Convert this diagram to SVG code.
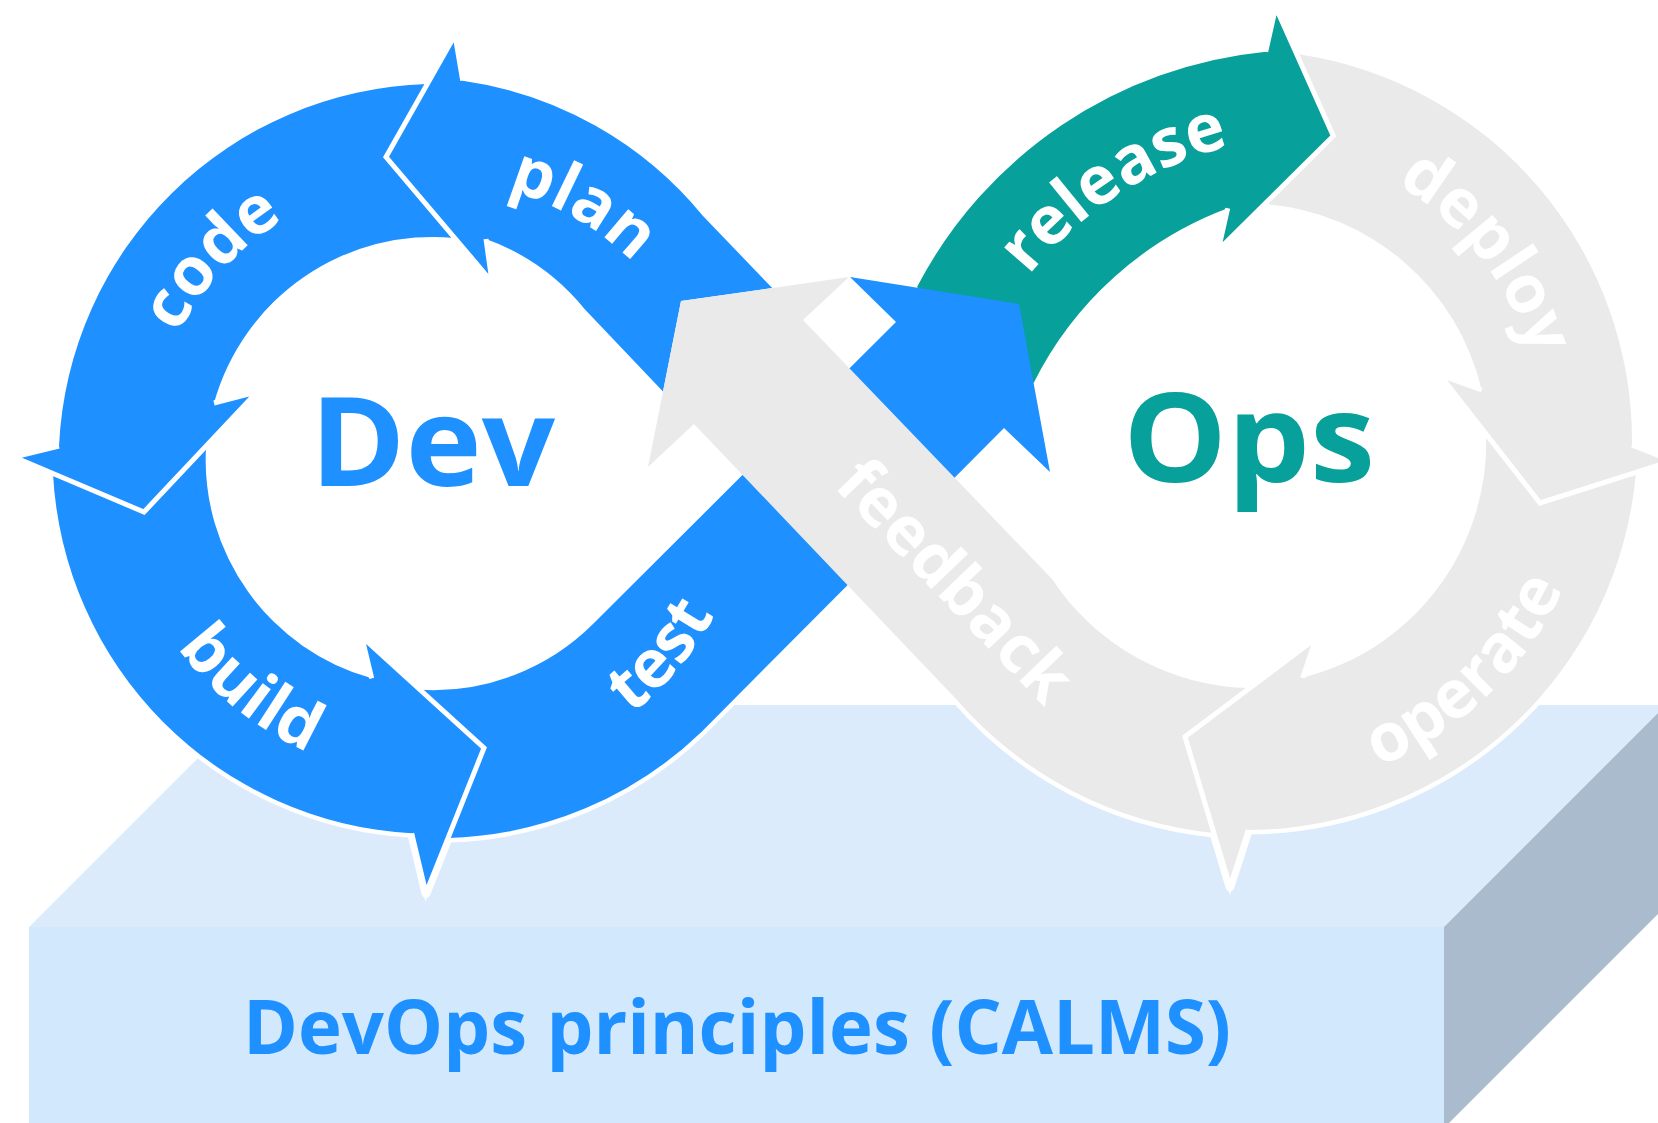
<svg xmlns="http://www.w3.org/2000/svg" xmlns:xlink="http://www.w3.org/1999/xlink" width="1658" height="1123" viewBox="0 0 1658 1123">
<style>
.blue{fill:#1e90ff}
.teal{fill:#08a09b}
.gray{fill:#eaeaea}
.halo{fill:#fff;stroke:#fff;stroke-width:9;stroke-linejoin:round}
.gap{fill:none;stroke:#fff;stroke-width:5;stroke-linejoin:miter;stroke-miterlimit:6}
.lbl{font-family:"Open Sans","Liberation Sans",sans-serif;font-weight:700;font-size:67px;fill:#fff}
.big{font-family:"Open Sans","Liberation Sans",sans-serif;font-weight:700}
</style>
<defs>
<path id="s-code" d="M427,84 A380,380 0 0 0 59,446 L14,457 L144,512 L257,392 L214,403 A227,227 0 0 1 454.7,238 L386,157 Z"/>
<path id="s-build" d="M53,473.5 A380,380 0 0 0 411.7,833.3 L426,893.3 L484,748 L361.7,636.7 L371.7,678.3 A227,227 0 0 1 206,447 L144,512 Z"/>
<path id="s-test" d="M448,838 L484,748 L420,689.8 A227,227 0 0 0 593.5,623.5 L896,322 L850,277 L1019,304 L1050,472 L1004,428 L701.7,731.7 A380,380 0 0 1 448,838 Z"/>
<path id="s-plan" d="M772.2,288 L703,216 A380,380 0 0 0 462.7,80.7 L455,35 L386,157 L492,282 L486,239 A227,227 0 0 1 585,309.5 L663,391.4 L681,301 Z"/>
<path id="s-release" d="M917,287 A442,442 0 0 1 1265.7,51.7 L1275.7,7.3 L1333.3,136 L1218.3,250 L1227.7,208.3 A356,356 0 0 0 1033.6,383 Z"/>
<path id="s-deploy" d="M1297,54 A391,391 0 0 1 1632,445 L1672,461 L1540,503 L1440,375 L1481.7,390 A242,242 0 0 0 1265,204 L1333.3,136 Z"/>
<path id="s-operate" d="M1636,472.5 A391,391 0 0 1 1248.3,830 L1230,886.7 L1185,736.7 L1316,638.3 L1302.7,677.7 A242,242 0 0 0 1486,434 L1540,503 Z"/>
<path id="s-feedback" d="M1214,833 L1185,736.7 L1250,688 A242,242 0 0 1 1052,579 L803,320 L849,277 L681,301 L648,467 L694,424 L957,700 A391,391 0 0 0 1214,833 Z"/>
<path id="t-code" d="M149.3,499.3 A287,287 0 0 1 446.5,177.3"/>
<path id="t-plan" d="M336.7,196.9 A283,283 0 0 1 711.8,414.4"/>
<path id="t-build" d="M118.1,469.6 A315,315 0 0 0 494.2,772"/>
<path id="t-test" d="M432.5,783 A320,320 0 0 0 748.2,408"/>
<path id="t-release" d="M950,460 A376,376 0 0 1 1430,150"/>
<path id="t-deploy" d="M1253.5,142.2 A301,301 0 0 1 1537.4,505.6"/>
<path id="t-operate" d="M1230,794 A352,352 0 0 0 1595,440"/>
<path id="t-feedback" d="M731.4,379.9 L1146.2,813.4"/>
</defs>
<rect width="1658" height="1123" fill="#fff"/>
<g id="platform">
<polygon points="29,927 251,705 1666,705 1444,927" fill="#dbebfc"/>
<polygon points="1444,927 1666,705 1666,906 1444,1128" fill="#a9bbcc"/>
<rect x="29" y="927" width="1415" height="196" fill="#d2e8fc"/>
<text class="big" x="243" y="1054" font-size="75" textLength="988" lengthAdjust="spacingAndGlyphs" fill="#1e90ff">DevOps principles (CALMS)</text>
</g>
<g id="halo">
<use href="#s-code" class="halo"/>
<use href="#s-build" class="halo"/>
<use href="#s-test" class="halo"/>
<use href="#s-plan" class="halo"/>
<use href="#s-release" class="halo"/>
<use href="#s-deploy" class="halo"/>
<use href="#s-operate" class="halo"/>
<use href="#s-feedback" class="halo"/>
</g>
<g id="deploy">
<use href="#s-deploy" class="gray"/>
<text class="lbl"><textPath href="#t-deploy" startOffset="50%" text-anchor="middle">deploy</textPath></text>
</g>
<g id="operate">
<use href="#s-operate" class="gray"/>
<text class="lbl"><textPath href="#t-operate" startOffset="50%" text-anchor="middle">operate</textPath></text>
</g>
<g id="release">
<use href="#s-release" class="teal"/>
<text class="lbl"><textPath href="#t-release" startOffset="50%" text-anchor="middle">release</textPath></text>
</g>
<g id="code">
<use href="#s-code" class="blue"/>
<text class="lbl"><textPath href="#t-code" startOffset="50%" text-anchor="middle">code</textPath></text>
</g>
<g id="build">
<use href="#s-build" class="blue"/>
<text class="lbl"><textPath href="#t-build" startOffset="50%" text-anchor="middle">build</textPath></text>
</g>
<g id="plan">
<use href="#s-plan" class="blue"/>
<text class="lbl"><textPath href="#t-plan" startOffset="50%" text-anchor="middle">plan</textPath></text>
</g>
<g id="test">
<use href="#s-test" class="blue"/>
<text class="lbl"><textPath href="#t-test" startOffset="50%" text-anchor="middle">test</textPath></text>
</g>
<g id="feedback">
<use href="#s-feedback" class="gray"/>
<text class="lbl"><textPath href="#t-feedback" startOffset="50%" text-anchor="middle">feedback</textPath></text>
</g>
<g id="separators">
<polyline class="gap" points="59,446 14,457 144,512 257,392 214,403"/>
<polyline class="gap" points="411.7,833.3 426,893.3 484,748 361.7,636.7 371.7,678.3"/>
<polyline class="gap" points="462.7,80.7 455,35 386,157 492,282 486,239"/>
<polyline class="gap" points="1265.7,51.7 1275.7,7.3 1333.3,136 1218.3,250 1227.7,208.3"/>
<polyline class="gap" points="1632,445 1672,461 1540,503 1440,375 1481.7,390"/>
<polyline class="gap" points="1248.3,830 1230,886.7 1185,736.7 1316,638.3 1302.7,677.7"/>
</g>
<g id="dev-label">
<text class="big" x="310" y="486" font-size="124" textLength="245" lengthAdjust="spacingAndGlyphs" fill="#1e90ff">Dev</text>
</g>
<g id="ops-label">
<text class="big" x="1123" y="482" font-size="124" textLength="252" lengthAdjust="spacingAndGlyphs" fill="#08a09b">Ops</text>
</g>
</svg>
